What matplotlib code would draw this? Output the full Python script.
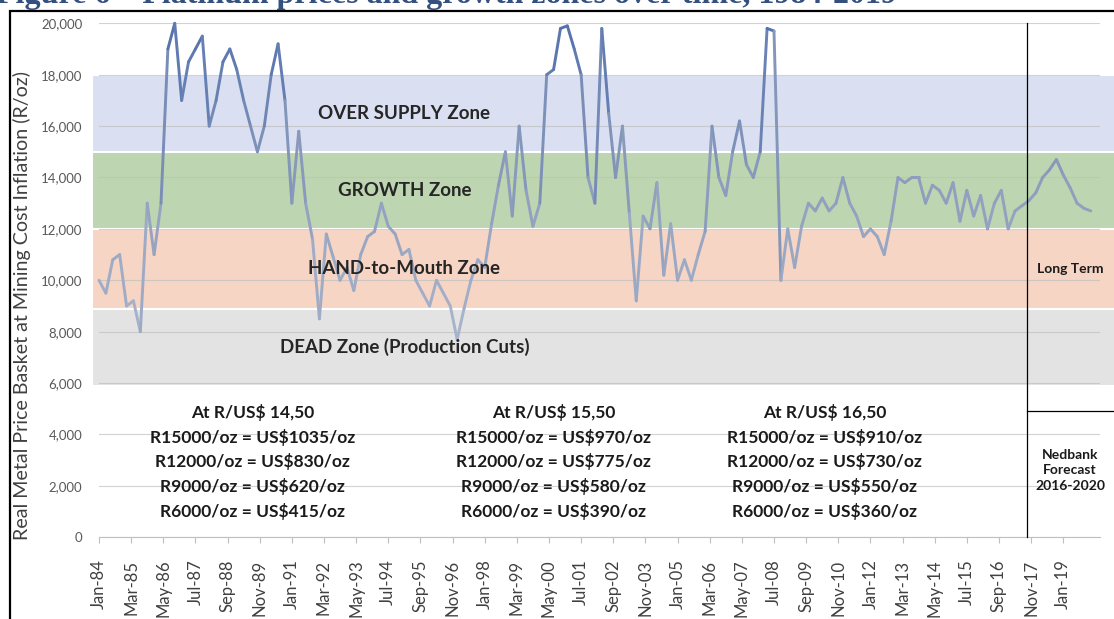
import numpy as np
import pandas as pd
import matplotlib
matplotlib.use("Agg")
import matplotlib.pyplot as plt
import matplotlib.transforms as mtransforms
from matplotlib.collections import LineCollection
from matplotlib.colors import LinearSegmentedColormap, Normalize
from matplotlib.patches import Rectangle

plt.rcParams['font.family'] = ['Lato', 'DejaVu Sans']

# ----------------------------------------------------------------------------
# Data (quarterly from Jan-84)
# ----------------------------------------------------------------------------
price = [10000, 9500, 10800, 11000, 9000, 9200, 8000, 13000, 11000, 13000,
         19000, 20000, 17000, 18500, 19000, 19500, 16000, 17000, 18500, 19000,
         18200, 17000, 16000, 15000, 16000, 18000, 19200, 17000, 13000, 15800,
         13000, 11600, 8500, 11800, 10900, 10000, 10500, 9600, 11000, 11700,
         11900, 13000, 12100, 11800, 11000, 11200, 10000, 9500, 9000, 10000,
         9500, 9000, 7700, 8900, 10000, 10800, 10500, 12200, 13700, 15000,
         12500, 16000, 13500, 12100, 13000, 18000, 18200, 19800, 19900, 19000,
         18000, 14000, 13000, 19800, 16500, 14000, 16000, 12600, 9200, 12500,
         12000, 13800, 10200, 12200, 10000, 10800, 10000, 11000, 11900, 16000,
         14000, 13300, 15000, 16200, 14500, 14000, 15000, 19800, 19700, 10000,
         12000, 10500, 12100, 13000, 12700, 13200, 12700, 13000, 14000, 13000,
         12500, 11700, 12000, 11700, 11000, 12300, 14000, 13800, 14000, 14000,
         13000, 13700, 13500, 13000, 13800, 12300, 13500, 12500, 13300, 12000,
         13000, 13500, 12000, 12700, 12900, 13100, 13400, 14000, 14300, 14700,
         14100, 13600, 13000, 12800, 12700]
quarters = pd.date_range("1984-01-01", periods=len(price), freq="QS")

tick_labels = ["Jan-84", "Mar-85", "May-86", "Jul-87", "Sep-88", "Nov-89",
               "Jan-91", "Mar-92", "May-93", "Jul-94", "Sep-95", "Nov-96",
               "Jan-98", "Mar-99", "May-00", "Jul-01", "Sep-02", "Nov-03",
               "Jan-05", "Mar-06", "May-07", "Jul-08", "Sep-09", "Nov-10",
               "Jan-12", "Mar-13", "May-14", "Jul-15", "Sep-16", "Nov-17",
               "Jan-19"]

zone_names = ["OVER SUPPLY Zone", "GROWTH Zone", "HAND-to-Mouth Zone",
              "DEAD Zone (Production Cuts)"]
zone_low = [15000, 12000, 8900, 5900]
zone_high = [18000, 15000, 12000, 8900]
zone_colors = ["#dae0f1", "#bdd5b1", "#f6d5c5", "#e3e3e3"]

fx_rates = ["14,50", "15,50", "16,50"]
rand_levels = [15000, 12000, 9000, 6000]
usd_levels = [[1035, 830, 620, 415],
              [970, 775, 580, 390],
              [910, 730, 550, 360]]

forecast_start = "2017-09-01"
forecast_label = "Nedbank\nForecast\n2016-2020"


def months_since_start(dates):
    dates = pd.DatetimeIndex(dates)
    return np.asarray((dates.year - 1984) * 12 + (dates.month - 1), dtype=float)


x = months_since_start(quarters)
y = np.asarray(price, dtype=float)
tick_pos = months_since_start(pd.to_datetime(tick_labels, format="%b-%y"))
fc_x = months_since_start([forecast_start])[0]

XMAX = 436.0

# ----------------------------------------------------------------------------
# Figure
# ----------------------------------------------------------------------------
W, H = 1114, 619
fig = plt.figure(figsize=(W / 100, H / 100), dpi=100)
ax = fig.add_axes([99 / W, 1 - 537.3 / H, 1001 / W, 514 / H])
ax.set_xlim(0, XMAX)
ax.set_ylim(0, 20000)

# zone bands (reach a bit past the plot area, like the drawn shapes)
blend = mtransforms.blended_transform_factory(ax.transAxes, ax.transData)
for name, lo, hi, col in zip(zone_names, zone_low, zone_high, zone_colors):
    ax.add_patch(Rectangle((-0.007, lo), 1.03, hi - lo, transform=blend,
                           facecolor=col, edgecolor="white", lw=1.5,
                           clip_on=False, zorder=0.2))
    ax.text(133, (lo + hi) / 2, name, ha="center", va="center",
            fontsize=13.5, fontweight="bold", color="#262626", zorder=4)

# grid
ax.set_axisbelow(True)
ax.set_yticks(np.arange(0, 20001, 2000))
ax.yaxis.set_major_formatter(matplotlib.ticker.StrMethodFormatter("{x:,.0f}"))
ax.grid(axis="y", color="#bfbfbf", lw=0.8, alpha=0.7)
ax.tick_params(axis="y", length=0, pad=12, labelsize=9.5, labelcolor="#595959")

ax.set_xticks(tick_pos)
ax.set_xticklabels(tick_labels, rotation=90)
ax.tick_params(axis="x", length=4, width=0.8, color="#bfbfbf", pad=12,
               labelsize=12, labelcolor="#404040")

for s in ["top", "right", "left"]:
    ax.spines[s].set_visible(False)
ax.spines["bottom"].set_color("#bfbfbf")

ax.set_ylabel("Real Metal Price Basket at Mining Cost Inflation (R/oz)",
              fontsize=14.1, color="#404040")
ax.yaxis.set_label_coords(-(99 - 31) / 1001, 0.45)

# price line, shaded darker the higher it goes
pts = np.column_stack([x, y]).reshape(-1, 1, 2)
segs = np.concatenate([pts[:-1], pts[1:]], axis=1)
cmap = LinearSegmentedColormap.from_list("pr", ["#a9b4cc", "#8c9cbc", "#5270ae"])
lc = LineCollection(segs, cmap=cmap, norm=Normalize(8000, 20000),
                    linewidths=2.1, capstyle="round", joinstyle="round",
                    zorder=3, clip_on=False)
lc.set_array((y[:-1] + y[1:]) / 2)
ax.add_collection(lc)

# rand / dollar conversion blocks
block_x = [67, 198, 316]
for bx, rate, usd in zip(block_x, fx_rates, usd_levels):
    lines = ["At R/US$ " + rate]
    lines += ["R%d/oz = US$%d/oz" % (r, u) for r, u in zip(rand_levels, usd)]
    for i, t in enumerate(lines):
        ax.text(bx, 4850 - i * 960, t, ha="center", va="center",
                fontsize=12.5, fontweight="bold", color="#1a1a1a")

# forecast split
ax.plot([fc_x, fc_x], [0, 20000], color="black", lw=0.9, zorder=5,
        clip_on=False)
fc_frac = fc_x / XMAX
ax.axhline(4900, xmin=fc_frac, xmax=1.02, color="black", lw=0.9,
           clip_on=False, zorder=5)
ax.text(423, 10450, "Long Term", ha="center", va="center", fontsize=10,
        fontweight="bold", color="#1a1a1a", clip_on=False)
ax.text(423, 2600, forecast_label, ha="center", va="center", fontsize=10,
        fontweight="bold", color="#1a1a1a", linespacing=1.35, clip_on=False)

# page title (cut at the top, as on the page) and frame
fig.text(-0.004, 1 - 3.5 / H,
         "Figure 6 \u2013 Platinum prices and growth zones over time, 1984-2019",
         family=["Liberation Serif"], fontweight="bold", fontsize=23,
         color="#34507f", va="baseline", ha="left")
fig.add_artist(Rectangle((9.5 / W, -0.1), 1.2, (H - 11) / H + 0.1,
                         transform=fig.transFigure, fill=False,
                         edgecolor="black", lw=1.6))

fig.savefig("out.png", dpi=100)
